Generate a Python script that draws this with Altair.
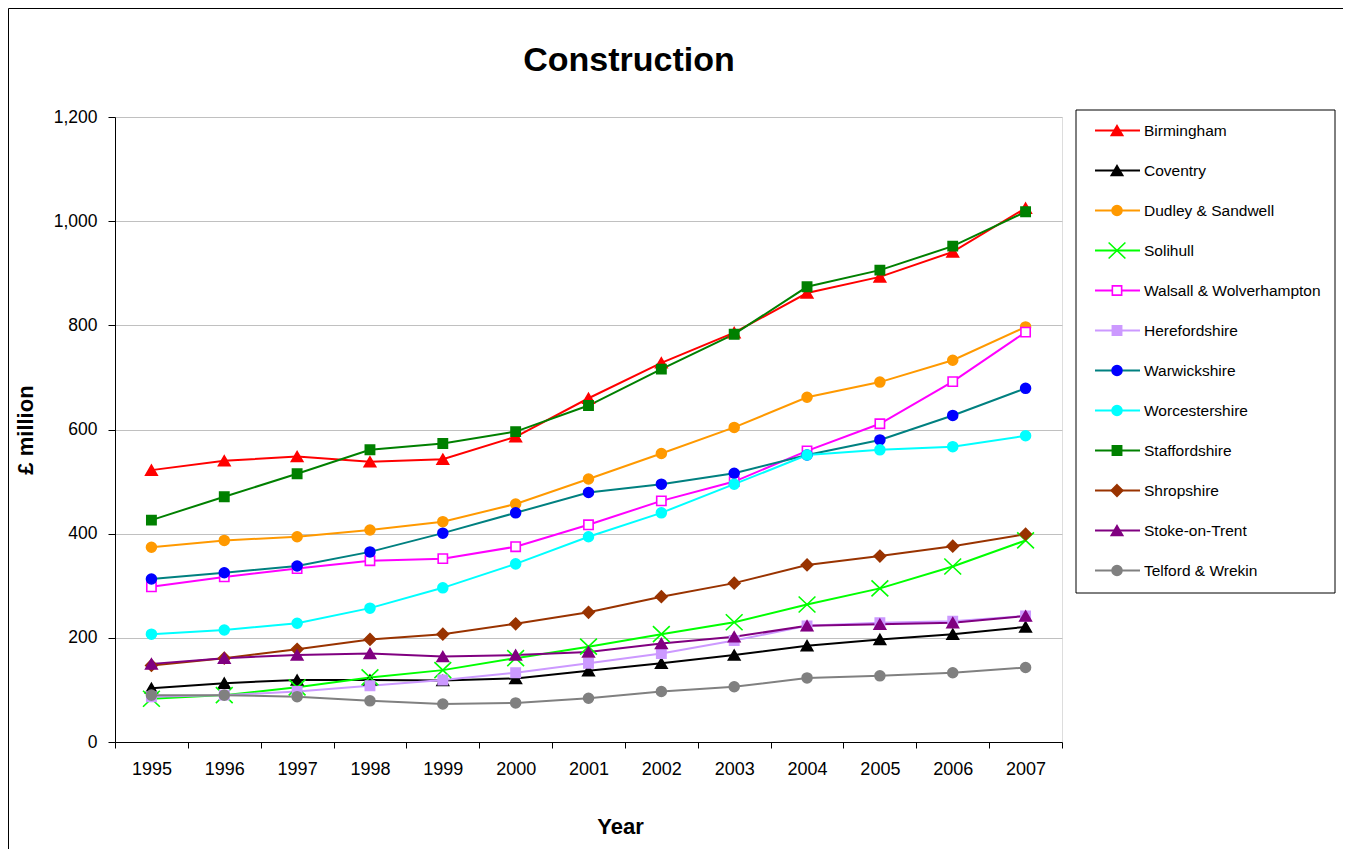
import altair as alt
import pandas as pd

title_text = "Construction"
x_title = "Year"
y_title = "£ million"

years = [str(y) for y in range(1995, 2008)]
series = ["Birmingham", "Coventry", "Dudley & Sandwell", "Solihull",
          "Walsall & Wolverhampton", "Herefordshire", "Warwickshire",
          "Worcestershire", "Staffordshire", "Shropshire", "Stoke-on-Trent",
          "Telford & Wrekin"]

birmingham = [522, 540, 548, 538, 543, 586, 660, 728, 786, 862, 893, 941, 1025]
coventry = [103, 113, 119, 119, 118, 122, 137, 151, 167, 185, 197, 207, 221]
dudley = [374, 387, 394, 407, 423, 457, 505, 554, 604, 662, 691, 733, 797]
solihull = [83, 90, 105, 124, 138, 161, 183, 207, 230, 264, 295, 337, 387]
walsall = [298, 317, 333, 348, 352, 375, 417, 463, 500, 559, 611, 692, 787]
herefordshire = [87, 90, 97, 108, 119, 133, 151, 170, 195, 223, 229, 232, 242]
warwickshire = [313, 325, 338, 365, 401, 440, 479, 495, 516, 551, 580, 627, 679]
worcestershire = [207, 215, 228, 257, 296, 342, 394, 440, 495, 551, 561, 567, 588]
staffordshire = [426, 471, 515, 561, 573, 596, 646, 716, 783, 874, 906, 952, 1018]
shropshire = [147, 161, 178, 197, 207, 227, 249, 279, 305, 340, 357, 376, 399]
stoke = [150, 161, 167, 170, 164, 167, 173, 189, 202, 223, 226, 229, 242]
telford = [90, 90, 87, 79, 73, 75, 84, 97, 106, 123, 127, 133, 143]

values = [birmingham, coventry, dudley, solihull, walsall, herefordshire,
          warwickshire, worcestershire, staffordshire, shropshire, stoke, telford]

y_ticks = [0, 200, 400, 600, 800, 1000, 1200]

line_colors = ["#FF0000", "#000000", "#FF9900", "#00FF00", "#FF00FF", "#CC99FF",
               "#008080", "#00FFFF", "#008000", "#993300", "#800080", "#808080"]
marker_fill = ["#FF0000", "#000000", "#FF9900", "transparent", "#FFFFFF", "#CC99FF",
               "#0000FF", "#00FFFF", "#008000", "#993300", "#800080", "#808080"]
marker_stroke = ["#FF0000", "#000000", "#FF9900", "#00FF00", "#FF00FF", "#CC99FF",
                 "#0000FF", "#00FFFF", "#008000", "#993300", "#800080", "#808080"]

TRI = "M0,-0.62L0.72,0.62L-0.72,0.62Z"
CIRC = "M-0.62,0A0.62,0.62 0 1,0 0.62,0A0.62,0.62 0 1,0 -0.62,0Z"
SQ = "M-0.58,-0.58H0.58V0.58H-0.58Z"
DIA = "M0,-0.72L0.72,0L0,0.72L-0.72,0Z"
XS = "M-1.05,-1.0L1.05,1.0M-1.05,1.0L1.05,-1.0"
shapes = [TRI, TRI, CIRC, XS, SQ, SQ, CIRC, CIRC, SQ, DIA, TRI, CIRC]

rows = []
for s, vals in zip(series, values):
    for y, v in zip(years, vals):
        rows.append({"series": s, "year": y, "value": v})
df = pd.DataFrame(rows)
legend_df = pd.DataFrame({"series": series})

FONT = "Liberation Sans"
W, H = 947, 625

x_enc = alt.X("year:O", bandPosition=0.5,
              scale=alt.Scale(type="band", domain=years, paddingInner=0, paddingOuter=0),
              axis=alt.Axis(title=x_title, tickBand="extent", labelAngle=0, tickSize=6,
                            labelPadding=12, labelFontSize=18, labelColor="black",
                            domainColor="black", tickColor="black", grid=False,
                            titleFontSize=22, titleFontWeight="bold", titleColor="black",
                            titleX=505, titleY=91, titleBaseline="alphabetic"))

y_scale = alt.Scale(domain=[0, 1200], nice=False)

color_enc = alt.Color("series:N", scale=alt.Scale(domain=series, range=line_colors), legend=None)
shape_enc = alt.Shape("series:N", scale=alt.Scale(domain=series, range=shapes), legend=None)
fill_enc = alt.Fill("series:N", scale=alt.Scale(domain=series, range=marker_fill), legend=None)
stroke_enc = alt.Stroke("series:N", scale=alt.Scale(domain=series, range=marker_stroke), legend=None)

lines = alt.Chart(df).mark_line(strokeWidth=2).encode(
    x=x_enc,
    y=alt.Y("value:Q", scale=y_scale,
            axis=alt.Axis(values=y_ticks, format=",.0f",
                          title=y_title, titleX=-83, titleBaseline="alphabetic",
                          titleFontSize=22, titleFontWeight="bold", titleColor="black",
                          tickSize=7, labelPadding=11, labelFontSize=17.5,
                          labelColor="black", grid=True, gridColor="#c0c0c0",
                          domainColor="black", tickColor="black")),
    color=color_enc,
    order=alt.Order("year:O"),
)

points = alt.Chart(df).mark_point(filled=True, size=256, strokeWidth=1.6, opacity=1).encode(
    x=x_enc,
    y=alt.Y("value:Q", scale=y_scale, axis=None),
    shape=shape_enc,
    fill=fill_enc,
    stroke=stroke_enc,
)

leg_y = alt.Y("series:N", scale=alt.Scale(type="point", domain=series, range=[13.5, 453.5], padding=0),
              axis=None)

legend_box = alt.Chart(pd.DataFrame({"k": [0]})).mark_rect(
    fill="white", stroke="black", strokeWidth=1).encode(
    x=alt.value(961), x2=alt.value(1220), y=alt.value(-7), y2=alt.value(476))

legend_lines = alt.Chart(legend_df).mark_rule(strokeWidth=2).encode(
    x=alt.value(980), x2=alt.value(1025), y=leg_y, color=color_enc)

legend_points = alt.Chart(legend_df).mark_point(filled=True, size=256, strokeWidth=1.6, opacity=1).encode(
    x=alt.value(1002), y=leg_y, shape=shape_enc, fill=fill_enc, stroke=stroke_enc)

legend_text = alt.Chart(legend_df).mark_text(
    align="left", baseline="middle", fontSize=15.5, font=FONT, color="black").encode(
    x=alt.value(1029), y=leg_y, text="series:N")

title = alt.Chart(pd.DataFrame({"t": [title_text]})).mark_text(
    align="center", baseline="alphabetic", fontSize=34, fontWeight="bold",
    font=FONT, color="black").encode(
    x=alt.value(514), y=alt.value(-46), text="t:N")

outer = alt.Chart(pd.DataFrame({"k": [0]})).mark_rect(
    fill="transparent", stroke="black", strokeWidth=1).encode(
    x=alt.value(-106.5), x2=alt.value(1230.5), y=alt.value(-108.5), y2=alt.value(760))

chart = alt.layer(
    outer, lines, points, legend_box, legend_lines, legend_points, legend_text, title
).resolve_scale(y="independent").properties(
    width=W, height=H,
    autosize=alt.AutoSizeParams(type="none"),
    padding={"left": 107, "top": 109, "right": 281, "bottom": 112},
).configure_view(stroke="#808080", strokeWidth=1).configure(font=FONT)

chart.save("out.html", embed_options={"renderer": "svg", "actions": False})
